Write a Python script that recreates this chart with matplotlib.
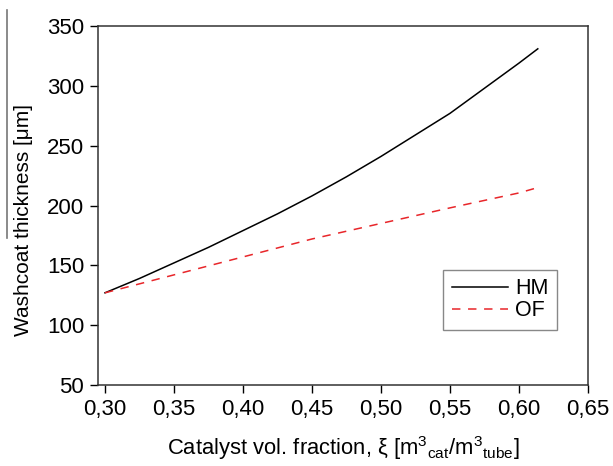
import matplotlib as mpl
mpl.use('Agg')
import matplotlib.pyplot as plt
from matplotlib.lines import Line2D
from matplotlib.ticker import FuncFormatter

mpl.rcParams['font.family'] = ['Liberation Sans', 'DejaVu Sans']
mpl.rcParams['mathtext.fontset'] = 'custom'
mpl.rcParams['mathtext.rm'] = 'Liberation Sans'
mpl.rcParams['mathtext.it'] = 'Liberation Sans:italic'

xi_hm = [0.30, 0.325, 0.35, 0.375, 0.40, 0.425, 0.45, 0.475, 0.50, 0.525, 0.55, 0.575, 0.60, 0.6137]
hm = [127, 139, 152, 165, 179, 193, 208, 224, 241, 259, 277, 298, 319, 331]

xi_of = [0.30, 0.35, 0.40, 0.45, 0.50, 0.55, 0.60, 0.6137]
of = [127, 142, 157, 172, 185, 198, 210.5, 215]

fig = plt.figure(figsize=(6.13, 4.66), dpi=100)
ax = fig.add_axes([0.16, 0.174, 0.799, 0.77])

ax.plot(xi_hm, hm, color='black', lw=1.1, label='HM')
ax.plot(xi_of, of, color='#e8262a', lw=1.1, ls=(0, (5.5, 5)), label='OF')

ax.set_xlim(0.295, 0.65)
ax.set_ylim(50, 350)
ax.set_xticks([0.30, 0.35, 0.40, 0.45, 0.50, 0.55, 0.60, 0.65])
ax.set_yticks(range(50, 351, 50))
ax.xaxis.set_major_formatter(FuncFormatter(lambda v, p: ('%.2f' % v).replace('.', ',')))
ax.tick_params(labelsize=16, direction='out', length=6, width=1, top=False, right=False, pad=4)
for s in ax.spines.values():
    s.set_linewidth(1.1)
    s.set_color('#333333')

ax.set_xlabel(r'Catalyst vol. fraction, $\mathrm{\xi}$ [m$^3$$_{\mathrm{cat}}$/m$^3$$_{\mathrm{tube}}$]',
              fontsize=15.8, labelpad=10)
ax.set_ylabel(u'Washcoat thickness [\u03bcm]', fontsize=15,
              family=['Liberation Sans Narrow', 'Liberation Sans'])
ax.yaxis.set_label_coords(-0.133, 0.46)

leg = ax.legend(loc='lower right', bbox_to_anchor=(0.937, 0.153), fontsize=15.5,
                fancybox=False, framealpha=1, edgecolor='#888888', borderaxespad=0,
                handlelength=2.6, handletextpad=0.33, borderpad=0.4, labelspacing=0.05)
leg.get_frame().set_linewidth(1.0)

fig.add_artist(Line2D([0.011, 0.011], [1 - 10 / 466, 1 - 238 / 466], color='#777777', lw=1.2,
                      transform=fig.transFigure))

fig.savefig('out.png', dpi=100)
